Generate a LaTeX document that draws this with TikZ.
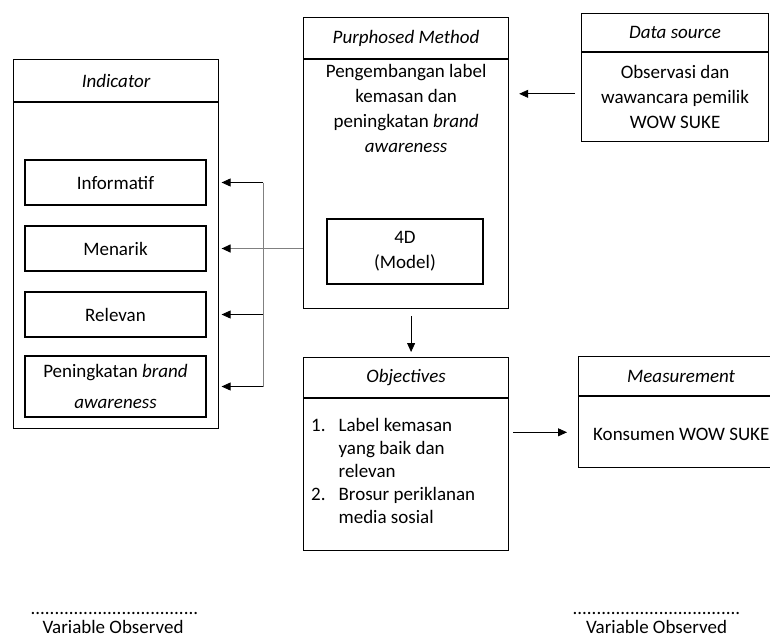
\documentclass[tikz,border=0pt]{standalone}
\usepackage{fontspec}
\setmainfont{Carlito}
\usetikzlibrary{arrows.meta,positioning}
\newcommand\dfont{\fontsize{19}{25}\selectfont}
\tikzset{
  hdr/.style={draw, line width=1.2pt, inner sep=0pt, font=\dfont\itshape, anchor=north west},
  body/.style={draw, line width=1.2pt, inner sep=0pt},
  item/.style={draw, line width=1.2pt, inner sep=0pt, minimum width=181pt, font=\dfont, align=center},
  txt/.style={inner sep=0pt, font=\dfont, align=center},
  arr/.style={-{Triangle[length=9pt,width=8pt]}, line width=0.8pt},
  garr/.style={-{Triangle[length=9pt,width=8pt,black]}, line width=1.2pt, gray},
  gline/.style={line width=0.8pt, gray}
}
\begin{document}
\begin{tikzpicture}[x=1pt,y=-1pt]
    \useasboundingbox (0,0) rectangle (770,638);
    % indicator
    \node[hdr, minimum width=205pt, minimum height=42pt] (ind-h) at (13,59) {Indicator};
    \node[body, minimum width=205pt, minimum height=326pt, below=0pt of ind-h] (ind-b) {};
    \node[item, minimum height=45pt] (inf) at (115.5,182.5) {Informatif};
    \node[item, minimum height=45pt] (men) at (115.5,248.5) {Menarik};
    \node[item, minimum height=45pt] (rel) at (115.5,314.5) {Relevan};
    \node[item, minimum height=61pt] (pen) at (115.5,386.5) {Peningkatan \textit{brand}\\[6pt] \textit{awareness}};
    % purphosed method
    \node[hdr, minimum width=205pt, minimum height=41pt] (pm-h) at (303,17) {Purphosed Method};
    \node[body, minimum width=205pt, minimum height=249pt, below=0pt of pm-h] (pm-b) {};
    \node[txt, below=5pt of pm-h] (pm-t) {Pengembangan label\\ kemasan dan\\ peningkatan \textit{brand}\\ \textit{awareness}};
    \node[item, minimum width=156pt, minimum height=65pt] (mdl) at (405,251.5) {4D\\ (Model)};
    % data source
    \node[hdr, minimum width=187pt, minimum height=38pt] (ds-h) at (581,13) {Data source};
    \node[body, minimum width=187pt, minimum height=89pt, below=0pt of ds-h] (ds-b) {};
    \node[txt] (ds-t) at (ds-b) {Observasi dan\\ wawancara pemilik\\ WOW SUKE};
    % objectives
    \node[hdr, minimum width=205pt, minimum height=40pt] (ob-h) at (303,357) {Objectives};
    \node[body, minimum width=205pt, minimum height=152pt, below=0pt of ob-h] (ob-b) {};
    \node[txt, anchor=west, font=\dfont\renewcommand\arraystretch{0.92}] (ob-t) at (311,473)
        {\begin{tabular}{@{}l@{\hspace{13pt}}l@{}}
         1. & Label kemasan\\ & yang baik dan\\ & relevan\\
         2. & Brosur periklanan\\ & media sosial
         \end{tabular}};
    % measurement
    \node[hdr, minimum width=205pt, minimum height=39pt] (ms-h) at (578,356) {Measurement};
    \node[body, minimum width=205pt, minimum height=71pt, below=0pt of ms-h] (ms-b) {};
    \node[txt, anchor=west] (ms-t) at (593,434) {Konsumen WOW SUKE};
    % connectors
    \draw[arr, shorten <=6pt, shorten >=10pt] ([yshift=3.5pt]ds-b.west) -- ([yshift=3.5pt]pm-b.east |- ds-b.west);
    \draw[arr, shorten <=7pt, shorten >=5pt] ([xshift=5pt]pm-b.south) -- ([xshift=5pt]ob-h.north);
    \draw[arr, shorten <=4pt, shorten >=11pt] (ob-b.east |- ms-b.west) -- (ms-b.west);
    \draw[garr, shorten >=15pt] (pm-b.west |- men.east) -- (men.east);
    \coordinate (brk) at (263,182.5);
    \draw[gline] (brk |- inf.east) -- (brk |- pen.east);
    \foreach \n in {inf,rel,pen}
        \draw[arr, shorten >=15pt] (brk |- \n.east) -- (\n.east);
    % bottom labels
    \node[txt, anchor=base] (dots-l) at (114.5,614) {...................................};
    \node[txt, anchor=base] (var-l) at (113,633) {Variable Observed};
    \node[txt, anchor=base] (dots-r) at (656.5,614) {...................................};
    \node[txt, anchor=base] (var-r) at (656.5,633) {Variable Observed};
\end{tikzpicture}
\end{document}
